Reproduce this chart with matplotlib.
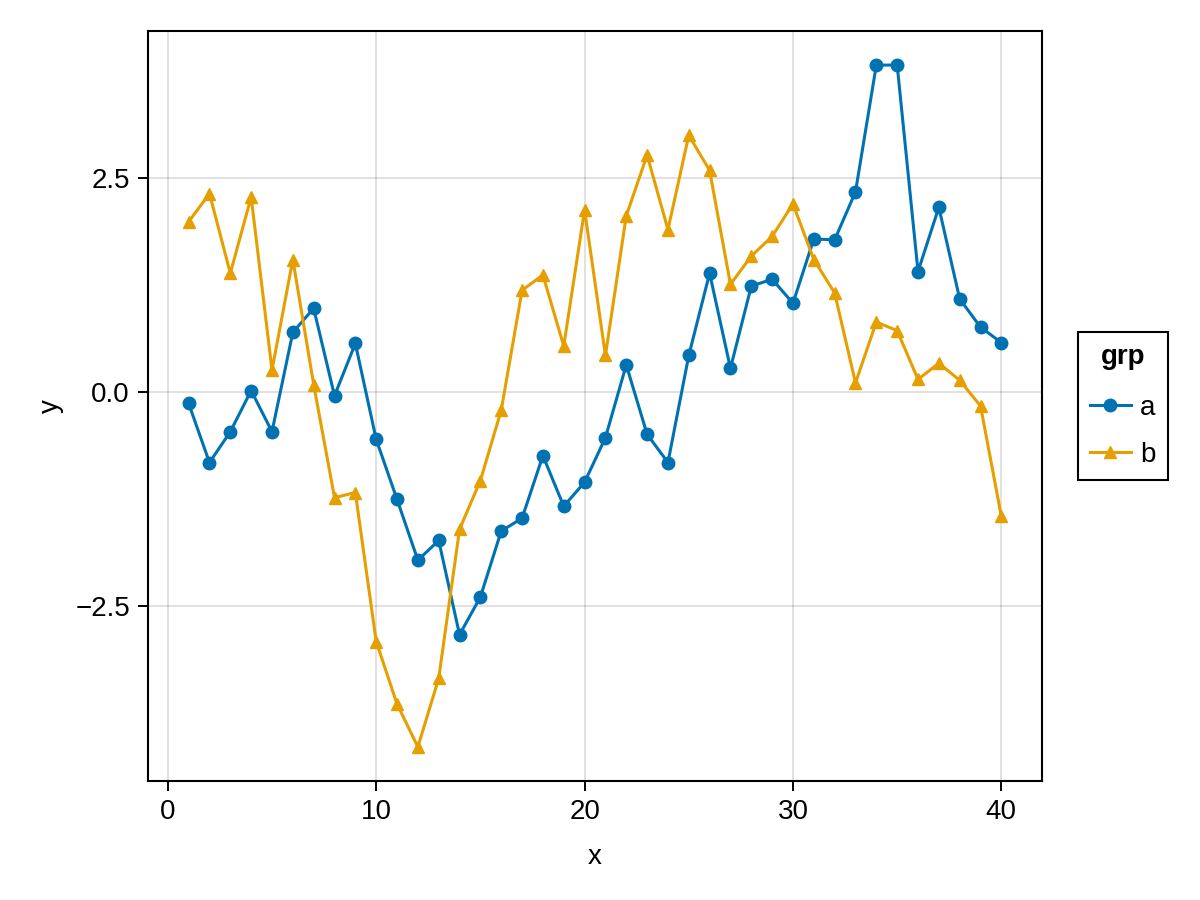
import matplotlib
matplotlib.use("Agg")
import matplotlib.pyplot as plt

# Данні двох груп
x_vals = list(range(1, 41))
a_vals = [-0.13, -0.82, -0.46, 0.02, -0.46, 0.70, 0.98, -0.04, 0.57, -0.55,
          -1.25, -1.96, -1.73, -2.83, -2.39, -1.62, -1.47, -0.74, -1.33, -1.05,
          -0.53, 0.32, -0.49, -0.82, 0.43, 1.39, 0.28, 1.24, 1.32, 1.04,
          1.79, 1.78, 2.34, 3.82, 3.82, 1.41, 2.16, 1.09, 0.76, 0.58]
b_vals = [1.99, 2.32, 1.39, 2.28, 0.26, 1.55, 0.09, -1.23, -1.17, -2.91,
          -3.64, -4.14, -3.34, -1.60, -1.03, -0.21, 1.19, 1.37, 0.54, 2.13,
          0.43, 2.06, 2.77, 1.90, 3.00, 2.59, 1.26, 1.59, 1.82, 2.20,
          1.55, 1.16, 0.11, 0.82, 0.72, 0.15, 0.34, 0.14, -0.16, -1.45]
group_names = ["a", "b"]
xticks = [0, 10, 20, 30, 40]
yticks = [-2.5, 0.0, 2.5]

plt.rcParams['font.family'] = ['Liberation Sans', 'DejaVu Sans']
plt.rcParams['font.size'] = 20

fig = plt.figure(figsize=(12, 9), dpi=100)
ax = fig.add_axes([148 / 1200, 1 - 781 / 900, (1042 - 148) / 1200, (781 - 31) / 900])

ax.plot(x_vals, a_vals, color='#0072B2', lw=2.2, marker='o', ms=9, label=group_names[0])
ax.plot(x_vals, b_vals, color='#E69F00', lw=2.2, marker='^', ms=9, label=group_names[1])

ax.set_xticks(xticks)
ax.set_yticks(yticks)
ax.set_yticklabels([f"{v:.1f}".replace('-', '\u2212') for v in yticks])
ax.grid(True, color='black', alpha=0.12, lw=1.4)
ax.set_axisbelow(True)
for s in ax.spines.values():
    s.set_linewidth(1.5)
ax.tick_params(length=7, width=1.4, pad=6)
ax.set_xlabel("x", labelpad=14)
ax.set_ylabel("y", labelpad=8)

leg = ax.legend(title="grp", loc='center left', bbox_to_anchor=(1.04, 0.5),
                frameon=True, fancybox=False, edgecolor='black', framealpha=1,
                handlelength=1.45, handletextpad=0.35, borderpad=0.45,
                labelspacing=0.75, borderaxespad=0)
leg.get_title().set_fontweight('bold')
leg._legend_box.sep = 18
leg.get_frame().set_linewidth(1.5)

fig.savefig("out.png", dpi=100)
